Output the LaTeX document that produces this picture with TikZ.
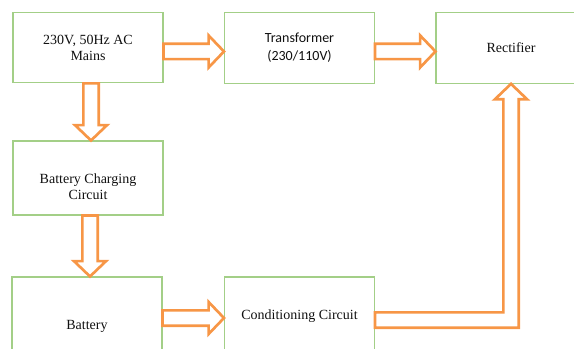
\documentclass[tikz,border=0pt]{standalone}
\usepackage{fontspec}
\setmainfont{Liberation Serif}
\newfontfamily\timesfont{Liberation Serif}
\newfontfamily\calibrifont{Carlito}
\usepackage{tikz}
\usetikzlibrary{calc}
\definecolor{BoxGreen}{HTML}{A3CF87}
\definecolor{ArrOrange}{HTML}{F79646}
\definecolor{TextBlack}{HTML}{101010}

\begin{document}
\begin{tikzpicture}[
    x=0.75pt, y=-0.75pt,
    stage/.style={draw=BoxGreen, line width=0.8pt, minimum width=112.5pt, minimum height=53pt, inner sep=0pt, align=center, text=TextBlack, font=\timesfont\fontsize{10.5}{12}\selectfont},
    sansstage/.style={stage, font=\calibrifont\fontsize{10.5}{13.5}\selectfont},
    boxtext/.style={align=center, inner sep=0pt, text=TextBlack, font=\timesfont\fontsize{10.5}{12}\selectfont},
    fatarr/.style={draw=ArrOrange, line width=2pt, fill=white},
    rblock/.style={fatarr, to path={let \p1=(\tikztostart), \p2=(\tikztotarget) in
        (\x1,\y1+5.75pt) -- (\x2-11.5pt,\y1+5.75pt) -- (\x2-11.5pt,\y1+12pt) -- (\x2,\y1)
        -- (\x2-11.5pt,\y1-12pt) -- (\x2-11.5pt,\y1-5.75pt) -- (\x1,\y1-5.75pt) -- cycle}},
    dblock/.style={fatarr, to path={let \p1=(\tikztostart), \p2=(\tikztotarget) in
        (\x1-5.75pt,\y1) -- (\x1-5.75pt,\y2+11.5pt) -- (\x1-12pt,\y2+11.5pt) -- (\x1,\y2)
        -- (\x1+12pt,\y2+11.5pt) -- (\x1+5.75pt,\y2+11.5pt) -- (\x1+5.75pt,\y1) -- cycle}},
    elbowblock/.style={fatarr, to path={let \p1=(\tikztostart), \p2=(\tikztotarget) in
        (\x1,\y1+5.75pt) -- (\x2-5.75pt,\y1+5.75pt) -- (\x2-5.75pt,\y2-11.5pt) -- (\x2-12pt,\y2-11.5pt)
        -- (\x2,\y2) -- (\x2+12pt,\y2-11.5pt) -- (\x2+5.75pt,\y2-11.5pt) -- (\x2+5.75pt,\y1-5.75pt)
        -- (\x1,\y1-5.75pt) -- cycle}},
]
\clip (0,0) rectangle (574,349);

% --- Top row ---
\node[stage]     at (88,47.5)  (mains) {230V, 50Hz AC\\Mains};
\node[sansstage] at (299.5,48) (trans) {Transformer\\(230/110V)};
\node[stage]     at (511,48)   (rect)  {Rectifier};

% --- Left column and bottom row ---
\node[stage, minimum height=55.5pt,
      label={[boxtext, yshift=-6.75pt]center:Battery Charging\\Circuit}] at (88,178) (charge) {};
\node[stage, minimum height=73.5pt] at (87,326)    (battery) {Battery};
\node[stage, minimum height=58.5pt] at (299.5,316) (cond)    {Conditioning Circuit};

% --- Block arrows ---
\draw[rblock] ([yshift=-3pt]mains.east) to ([yshift=-3pt]trans.west);
\draw[rblock] ([yshift=-2.6pt]trans.east) to ([yshift=-2.6pt]rect.west);
\draw[dblock] ([xshift=2.25pt]mains.south) to ([xshift=2.25pt]charge.north);
\draw[dblock] ([xshift=1.5pt]charge.south) to ([xshift=1.5pt]battery.north);
\draw[rblock] ([yshift=6pt]battery.east) to ([yshift=6pt]cond.west);

% --- Conditioning output routed up to the rectifier ---
\draw[elbowblock] ([yshift=-3pt]cond.east) to (rect.south);

\end{tikzpicture}
\end{document}
